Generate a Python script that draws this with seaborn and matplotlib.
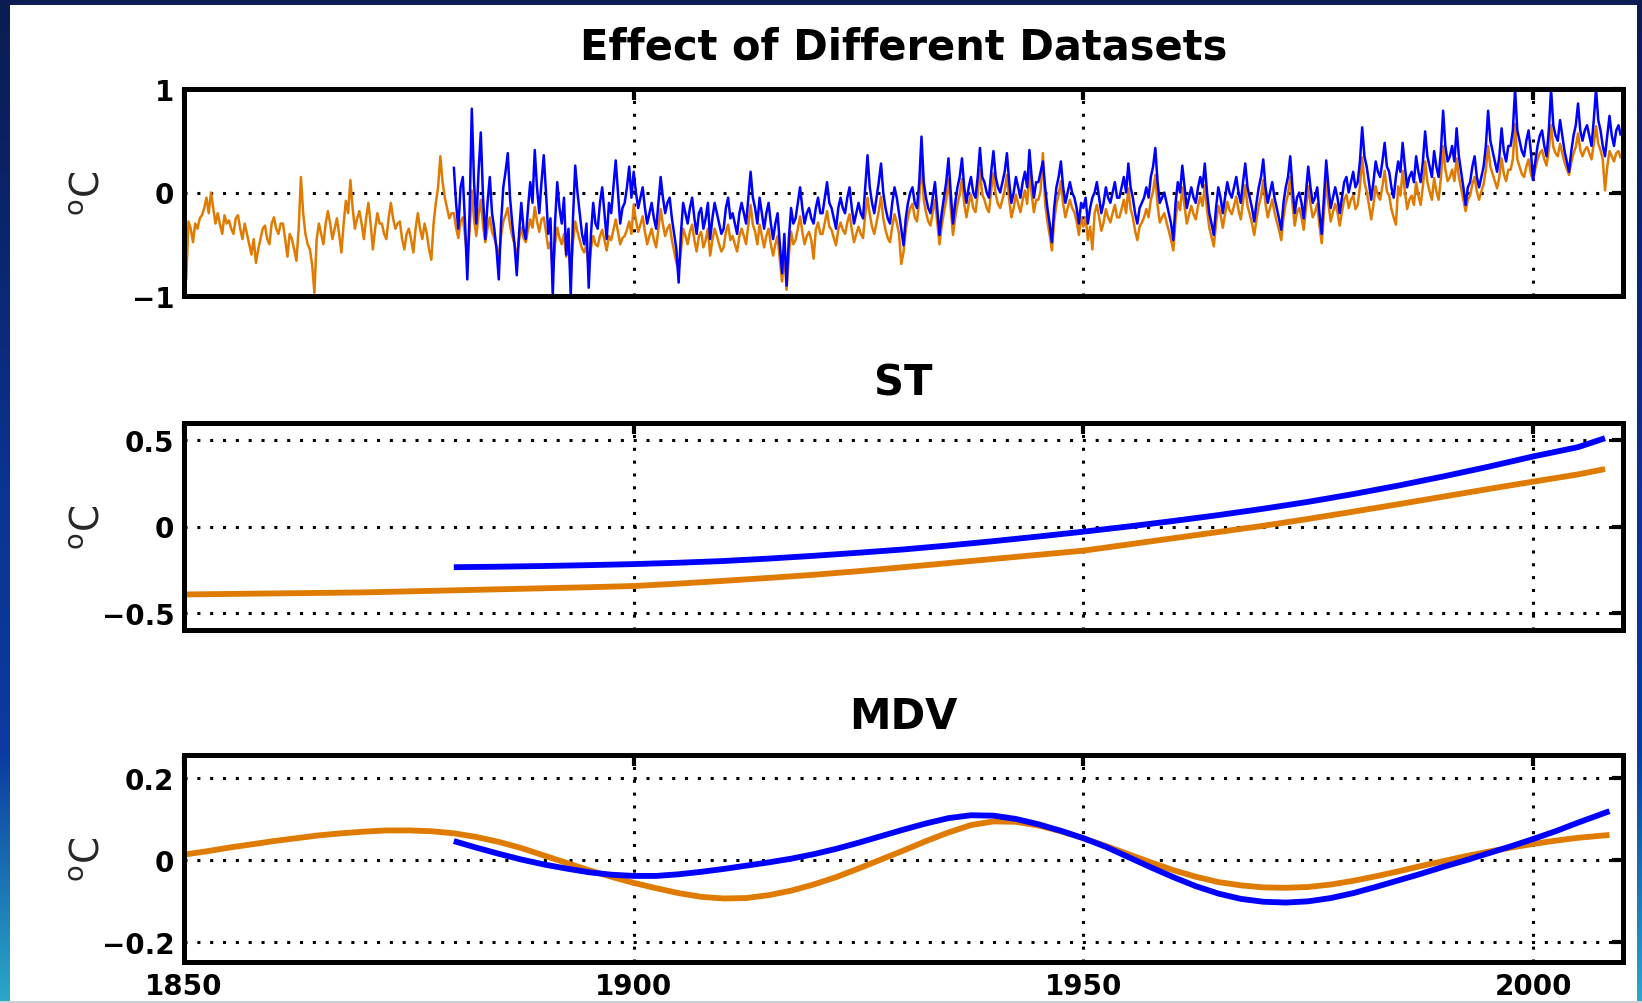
import numpy as np
import pandas as pd
import matplotlib
matplotlib.use("Agg")
import matplotlib.pyplot as plt
import seaborn as sns
from matplotlib.patches import Rectangle
from matplotlib.colors import LinearSegmentedColormap

# ---------------------------------------------------------------- data
# Anomaly series, sampled every quarter year (one decade per row)
ANOM_STEP = 0.25
ANOM_START_ORANGE = 1850.0
ANOM_START_BLUE = 1880.0

anom_orange = [
    -0.40, -0.84, -0.28, -0.35, -0.48, -0.30, -0.35, -0.25, -0.22, -0.15, -0.05, -0.20, 0.00, -0.15, -0.30, -0.20, -0.31, -0.40, -0.22, -0.30, -0.27, -0.35, -0.40, -0.25, -0.22, -0.35, -0.45, -0.30, -0.40, -0.50, -0.60, -0.45, -0.68, -0.55, -0.45, -0.35, -0.32, -0.45, -0.50, -0.30,
    -0.24, -0.35, -0.40, -0.30, -0.30, -0.45, -0.62, -0.40, -0.45, -0.55, -0.66, -0.35, 0.15, -0.20, -0.40, -0.50, -0.55, -0.70, -0.97, -0.45, -0.30, -0.40, -0.50, -0.30, -0.18, -0.30, -0.45, -0.35, -0.25, -0.40, -0.58, -0.30, -0.08, -0.20, 0.12, -0.15, -0.35, -0.25, -0.18, -0.30,
    -0.45, -0.25, -0.10, -0.30, -0.55, -0.35, -0.20, -0.30, -0.30, -0.40, -0.45, -0.25, -0.10, -0.25, -0.35, -0.30, -0.28, -0.45, -0.55, -0.40, -0.35, -0.45, -0.58, -0.35, -0.20, -0.35, -0.45, -0.30, -0.40, -0.55, -0.65, -0.30, -0.10, 0.05, 0.35, 0.10, -0.05, -0.15, -0.25, -0.20,
    -0.20, -0.34, -0.44, -0.28, -0.24, -0.42, -0.64, -0.38, 0.02, -0.26, -0.42, -0.22, -0.07, -0.32, -0.48, -0.34, -0.24, -0.38, -0.44, -0.52, -0.64, -0.42, -0.28, -0.22, -0.15, -0.32, -0.42, -0.50, -0.62, -0.46, -0.34, -0.44, -0.48, -0.36, -0.26, -0.34, -0.14, -0.28, -0.38, -0.26,
    -0.24, -0.38, -0.54, -0.48, -0.78, -0.50, -0.34, -0.44, -0.50, -0.40, -0.62, -0.52, -0.78, -0.48, -0.28, -0.38, -0.46, -0.54, -0.58, -0.50, -0.75, -0.54, -0.42, -0.50, -0.52, -0.42, -0.36, -0.46, -0.56, -0.42, -0.46, -0.36, -0.26, -0.38, -0.50, -0.44, -0.42, -0.36, -0.28, -0.40,
    -0.12, -0.27, -0.38, -0.31, -0.23, -0.38, -0.50, -0.42, -0.35, -0.46, -0.53, -0.35, -0.16, -0.31, -0.42, -0.35, -0.31, -0.46, -0.57, -0.68, -0.75, -0.57, -0.35, -0.42, -0.50, -0.38, -0.31, -0.46, -0.57, -0.42, -0.38, -0.53, -0.46, -0.35, -0.61, -0.46, -0.35, -0.42, -0.50, -0.57,
    -0.53, -0.38, -0.31, -0.46, -0.42, -0.50, -0.57, -0.42, -0.35, -0.42, -0.50, -0.31, -0.12, -0.31, -0.38, -0.50, -0.31, -0.42, -0.53, -0.42, -0.35, -0.50, -0.61, -0.50, -0.42, -0.65, -0.86, -0.57, -0.94, -0.61, -0.38, -0.50, -0.46, -0.35, -0.23, -0.38, -0.50, -0.42, -0.38, -0.46,
    -0.64, -0.36, -0.29, -0.40, -0.40, -0.29, -0.18, -0.33, -0.36, -0.44, -0.51, -0.36, -0.29, -0.36, -0.40, -0.29, -0.21, -0.36, -0.48, -0.40, -0.33, -0.40, -0.44, -0.21, -0.05, -0.21, -0.33, -0.40, -0.29, -0.18, -0.04, -0.25, -0.36, -0.44, -0.48, -0.33, -0.21, -0.29, -0.40, -0.69,
    -0.58, -0.36, -0.24, -0.15, -0.11, -0.24, -0.28, -0.07, 0.31, -0.07, -0.19, -0.28, -0.32, -0.19, -0.07, -0.28, -0.50, -0.32, -0.19, -0.07, 0.13, -0.15, -0.41, -0.24, -0.11, -0.02, 0.13, -0.11, -0.24, -0.11, -0.02, -0.15, -0.19, -0.02, 0.22, -0.02, -0.07, -0.15, -0.19, 0.02,
    0.19, -0.02, -0.11, -0.15, -0.07, 0.02, 0.17, -0.07, -0.24, -0.15, -0.02, -0.11, -0.19, -0.07, 0.02, -0.11, 0.20, -0.02, -0.19, -0.07, -0.07, 0.02, 0.38, -0.11, -0.28, -0.41, -0.56, -0.28, -0.11, -0.02, 0.11, -0.11, -0.24, -0.15, -0.07, -0.15, -0.19, -0.28, -0.41, -0.24,
    -0.33, -0.24, -0.46, -0.33, -0.55, -0.20, -0.12, -0.24, -0.37, -0.29, -0.16, -0.24, -0.29, -0.20, -0.12, -0.24, -0.24, -0.16, -0.07, -0.20, 0.04, -0.16, -0.24, -0.37, -0.46, -0.33, -0.29, -0.24, -0.16, -0.24, -0.07, 0.01, 0.17, -0.12, -0.29, -0.24, -0.20, -0.29, -0.37, -0.46,
    -0.56, -0.26, -0.09, -0.17, 0.05, -0.13, -0.30, -0.21, -0.13, -0.21, -0.26, -0.13, -0.04, -0.13, 0.07, -0.17, -0.34, -0.43, -0.52, -0.30, -0.13, -0.21, -0.34, -0.21, -0.09, -0.17, -0.21, -0.13, -0.04, -0.17, -0.26, -0.09, 0.07, -0.13, -0.21, -0.30, -0.41, -0.26, -0.13, -0.04,
    0.12, -0.11, -0.24, -0.15, -0.07, -0.19, -0.28, -0.36, -0.46, -0.24, -0.11, -0.02, 0.15, -0.11, -0.32, -0.19, -0.15, -0.24, -0.36, -0.15, 0.06, -0.11, -0.24, -0.19, -0.11, -0.32, -0.49, -0.19, 0.11, -0.11, -0.28, -0.19, -0.11, -0.19, -0.32, -0.19, -0.07, -0.02, -0.15, -0.07,
    -0.03, -0.16, -0.12, 0.06, 0.34, 0.10, 0.01, -0.12, -0.26, -0.12, 0.06, -0.03, -0.07, 0.06, 0.21, 0.01, -0.03, -0.16, -0.24, -0.31, 0.06, -0.03, 0.21, 0.01, -0.16, -0.07, -0.03, -0.12, 0.10, -0.03, -0.12, 0.06, 0.30, 0.10, 0.01, -0.07, 0.14, 0.01, -0.07, 0.14,
    0.45, 0.22, 0.11, 0.15, 0.22, 0.11, 0.33, 0.15, 0.04, -0.07, -0.18, -0.07, -0.03, 0.08, 0.15, 0.01, -0.07, 0.01, 0.08, 0.22, 0.45, 0.25, 0.18, 0.11, 0.04, 0.15, 0.33, 0.18, 0.11, 0.22, 0.22, 0.32, 0.66, 0.32, 0.25, 0.18, 0.15, 0.25, 0.32, 0.18,
    0.12, 0.23, 0.32, 0.38, 0.41, 0.32, 0.26, 0.41, 0.65, 0.44, 0.38, 0.35, 0.47, 0.38, 0.29, 0.23, 0.17, 0.29, 0.38, 0.44, 0.57, 0.41, 0.35, 0.41, 0.44, 0.38, 0.32, 0.47, 0.64, 0.47, 0.41, 0.32, 0.02, 0.25, 0.40, 0.35, 0.30, 0.38, 0.40, 0.33,
]

anom_blue = [
    0.25, -0.10, -0.35, 0.05, 0.15, -0.30, -0.84, -0.20, 0.81, 0.10, -0.30, 0.20, 0.58, -0.05, -0.45, -0.10, 0.15, -0.20, -0.35, -0.55, -0.84, -0.30, 0.05, 0.20, 0.38, -0.05, -0.30, -0.50, -0.80, -0.40, -0.10, -0.35, -0.45, -0.15, 0.10, -0.10, 0.41, 0.05, -0.20, 0.10,
    0.36, 0.00, -0.40, -0.25, -1.00, -0.30, 0.10, -0.15, -0.30, -0.05, -0.60, -0.35, -1.00, -0.25, 0.26, 0.00, -0.20, -0.40, -0.50, -0.30, -0.92, -0.40, -0.10, -0.30, -0.35, -0.10, 0.05, -0.20, -0.45, -0.10, -0.20, 0.05, 0.31, 0.00, -0.30, -0.15, -0.10, 0.05, 0.25, -0.05,
    0.20, 0.00, -0.15, -0.05, 0.05, -0.15, -0.30, -0.20, -0.10, -0.25, -0.35, -0.10, 0.15, -0.05, -0.20, -0.10, -0.05, -0.25, -0.40, -0.55, -0.87, -0.40, -0.10, -0.20, -0.30, -0.15, -0.05, -0.25, -0.40, -0.20, -0.15, -0.35, -0.25, -0.10, -0.45, -0.25, -0.10, -0.20, -0.30, -0.40,
    -0.35, -0.15, -0.05, -0.25, -0.20, -0.30, -0.40, -0.20, -0.10, -0.20, -0.30, -0.05, 0.20, -0.05, -0.15, -0.30, -0.05, -0.20, -0.35, -0.20, -0.10, -0.30, -0.45, -0.30, -0.20, -0.50, -0.78, -0.40, -0.90, -0.45, -0.15, -0.30, -0.25, -0.10, 0.05, -0.15, -0.30, -0.20, -0.15, -0.25,
    -0.30, -0.15, -0.05, -0.20, -0.20, -0.05, 0.10, -0.10, -0.15, -0.25, -0.35, -0.15, -0.05, -0.15, -0.20, -0.05, 0.05, -0.15, -0.30, -0.20, -0.10, -0.20, -0.25, 0.05, 0.36, 0.05, -0.10, -0.20, -0.05, 0.10, 0.28, 0.00, -0.15, -0.25, -0.30, -0.10, 0.05, -0.05, -0.20, -0.35,
    -0.51, -0.25, -0.10, 0.00, 0.05, -0.10, -0.15, 0.10, 0.54, 0.10, -0.05, -0.15, -0.20, -0.05, 0.10, -0.15, -0.41, -0.20, -0.05, 0.10, 0.33, 0.00, -0.30, -0.10, 0.05, 0.15, 0.33, 0.05, -0.10, 0.05, 0.15, 0.00, -0.05, 0.15, 0.43, 0.15, 0.10, 0.00, -0.05, 0.20,
    0.40, 0.15, 0.05, 0.00, 0.10, 0.20, 0.38, 0.10, -0.10, 0.00, 0.15, 0.05, -0.05, 0.10, 0.20, 0.05, 0.41, 0.15, -0.05, 0.10, 0.10, 0.20, 0.30, 0.05, -0.15, -0.30, -0.48, -0.15, 0.05, 0.15, 0.30, 0.05, -0.10, 0.00, 0.10, 0.00, -0.05, -0.15, -0.30, -0.10,
    -0.15, -0.05, -0.30, -0.15, -0.05, 0.00, 0.10, -0.05, -0.20, -0.10, 0.05, -0.05, -0.10, 0.00, 0.10, -0.05, -0.05, 0.05, 0.15, 0.00, 0.28, 0.05, -0.05, -0.20, -0.30, -0.15, -0.10, -0.05, 0.05, -0.05, 0.15, 0.25, 0.43, 0.10, -0.10, -0.05, 0.00, -0.10, -0.20, -0.30,
    -0.46, -0.10, 0.10, 0.00, 0.26, 0.05, -0.15, -0.05, 0.05, -0.05, -0.10, 0.05, 0.15, 0.05, 0.28, 0.00, -0.20, -0.30, -0.41, -0.15, 0.05, -0.05, -0.20, -0.05, 0.10, 0.00, -0.05, 0.05, 0.15, 0.00, -0.10, 0.10, 0.28, 0.05, -0.05, -0.15, -0.28, -0.10, 0.05, 0.15,
    0.32, 0.05, -0.10, 0.00, 0.10, -0.05, -0.15, -0.25, -0.36, -0.10, 0.05, 0.15, 0.35, 0.05, -0.20, -0.05, 0.00, -0.10, -0.25, 0.00, 0.25, 0.05, -0.10, -0.05, 0.05, -0.20, -0.40, -0.05, 0.31, 0.05, -0.15, -0.05, 0.05, -0.05, -0.20, -0.05, 0.10, 0.15, 0.00, 0.10,
    0.20, 0.05, 0.10, 0.30, 0.63, 0.35, 0.25, 0.10, -0.07, 0.10, 0.30, 0.20, 0.15, 0.30, 0.48, 0.25, 0.20, 0.05, -0.05, 0.15, 0.30, 0.20, 0.48, 0.25, 0.05, 0.15, 0.20, 0.10, 0.35, 0.20, 0.10, 0.30, 0.59, 0.35, 0.25, 0.15, 0.40, 0.25, 0.15, 0.40,
    0.79, 0.45, 0.30, 0.35, 0.45, 0.30, 0.62, 0.35, 0.20, 0.05, -0.12, 0.05, 0.10, 0.25, 0.35, 0.15, 0.05, 0.15, 0.25, 0.45, 0.79, 0.50, 0.40, 0.30, 0.20, 0.35, 0.62, 0.40, 0.30, 0.45, 0.45, 0.60, 1.00, 0.60, 0.50, 0.40, 0.35, 0.50, 0.60, 0.40,
    0.12, 0.30, 0.45, 0.55, 0.60, 0.45, 0.35, 0.60, 1.00, 0.65, 0.55, 0.50, 0.70, 0.55, 0.40, 0.30, 0.20, 0.40, 0.55, 0.65, 0.86, 0.60, 0.50, 0.60, 0.65, 0.55, 0.45, 0.70, 1.00, 0.70, 0.60, 0.45, 0.35, 0.55, 0.74, 0.55, 0.45, 0.60, 0.65, 0.55,
]

# Secular trend (ST) component
st_years_orange = [1850, 1855, 1860, 1865, 1870, 1875, 1880, 1885, 1890, 1895, 1900, 1905,
                   1910, 1915, 1920, 1925, 1930, 1935, 1940, 1945, 1950, 1955, 1960, 1965,
                   1970, 1975, 1980, 1985, 1990, 1995, 2000, 2005, 2008]
st_orange = [-0.394, -0.391, -0.388, -0.385, -0.382, -0.376, -0.370, -0.364, -0.358, -0.352, -0.345, -0.331,
             -0.315, -0.298, -0.280, -0.259, -0.236, -0.212, -0.188, -0.164, -0.140, -0.104, -0.068, -0.032,
             0.004, 0.044, 0.086, 0.129, 0.173, 0.217, 0.260, 0.302, 0.333]

st_years_blue = [1880, 1885, 1890, 1895, 1900, 1905, 1910, 1915, 1920, 1925, 1930, 1935,
                 1940, 1945, 1950, 1955, 1960, 1965, 1970, 1975, 1980, 1985, 1990, 1995,
                 2000, 2005, 2008]
st_blue = [-0.236, -0.233, -0.229, -0.224, -0.218, -0.210, -0.200, -0.186, -0.170, -0.152, -0.133, -0.110,
           -0.085, -0.058, -0.030, 0.000, 0.032, 0.066, 0.103, 0.143, 0.188, 0.237, 0.290, 0.346,
           0.406, 0.460, 0.512]

# Multidecadal variability (MDV) component
mdv_years_orange = [1850.0, 1852.5, 1855.0, 1857.5, 1860.0, 1862.5, 1865.0, 1867.5, 1870.0, 1872.5,
                    1875.0, 1877.5, 1880.0, 1882.5, 1885.0, 1887.5, 1890.0, 1892.5, 1895.0, 1897.5,
                    1900.0, 1902.5, 1905.0, 1907.5, 1910.0, 1912.5, 1915.0, 1917.5, 1920.0, 1922.5,
                    1925.0, 1927.5, 1930.0, 1932.5, 1935.0, 1937.5, 1940.0, 1942.5, 1945.0, 1947.5,
                    1950.0, 1952.5, 1955.0, 1957.5, 1960.0, 1962.5, 1965.0, 1967.5, 1970.0, 1972.5,
                    1975.0, 1977.5, 1980.0, 1982.5, 1985.0, 1987.5, 1990.0, 1992.5, 1995.0, 1997.5,
                    2000.0, 2002.5, 2005.0, 2008.5]
mdv_orange = [0.012, 0.020, 0.029, 0.037, 0.045, 0.052, 0.059, 0.064, 0.068, 0.071,
              0.071, 0.069, 0.064, 0.055, 0.043, 0.028, 0.010, -0.008, -0.026, -0.042,
              -0.057, -0.070, -0.082, -0.091, -0.095, -0.094, -0.087, -0.076, -0.061, -0.043,
              -0.022, 0.000, 0.022, 0.045, 0.066, 0.084, 0.093, 0.092, 0.083, 0.069,
              0.052, 0.033, 0.013, -0.007, -0.026, -0.042, -0.055, -0.063, -0.068, -0.069,
              -0.067, -0.061, -0.052, -0.041, -0.029, -0.016, -0.004, 0.008, 0.019, 0.029,
              0.038, 0.046, 0.053, 0.060]

mdv_years_blue = [1880.0, 1882.5, 1885.0, 1887.5, 1890.0, 1892.5, 1895.0, 1897.5,
                  1900.0, 1902.5, 1905.0, 1907.5, 1910.0, 1912.5, 1915.0, 1917.5, 1920.0, 1922.5,
                  1925.0, 1927.5, 1930.0, 1932.5, 1935.0, 1937.5, 1940.0, 1942.5, 1945.0, 1947.5,
                  1950.0, 1952.5, 1955.0, 1957.5, 1960.0, 1962.5, 1965.0, 1967.5, 1970.0, 1972.5,
                  1975.0, 1977.5, 1980.0, 1982.5, 1985.0, 1987.5, 1990.0, 1992.5, 1995.0, 1997.5,
                  2000.0, 2002.5, 2005.0, 2008.5]
mdv_blue = [0.045, 0.029, 0.014, 0.000, -0.012, -0.022, -0.031, -0.037,
            -0.040, -0.040, -0.036, -0.030, -0.023, -0.015, -0.007, 0.002, 0.013, 0.026,
            0.041, 0.057, 0.073, 0.088, 0.101, 0.108, 0.107, 0.099, 0.086, 0.070,
            0.052, 0.031, 0.006, -0.019, -0.043, -0.065, -0.083, -0.096, -0.103, -0.105,
            -0.102, -0.094, -0.082, -0.067, -0.051, -0.035, -0.018, -0.002, 0.015, 0.032,
            0.050, 0.069, 0.090, 0.118]

year_ticks = [1850, 1900, 1950, 2000]
year_labels = ["1850", "1900", "1950", "2000"]

panel_titles = ["Effect of Different Datasets", "ST", "MDV"]
panel_yticks = [[-1, 0, 1], [-0.5, 0, 0.5], [-0.2, 0, 0.2]]
panel_ylabels = [["\u22121", "0", "1"], ["\u22120.5", "0", "0.5"], ["\u22120.2", "0", "0.2"]]
panel_ylims = [(-1.0, 1.0), (-0.6, 0.6), (-0.25, 0.255)]
unit_label = r"$^{\mathrm{o}}$C"

ORANGE = "#DF7B00"
BLUE = "#0000FF"

# ---------------------------------------------------------------- style
sns.set_style("white")
plt.rcParams["font.family"] = ["DejaVu Sans"]
plt.rcParams["mathtext.fontset"] = "dejavusans"

W, H = 1642, 1004
fig = plt.figure(figsize=(W / 100, H / 100), dpi=100)
fig.patch.set_facecolor("white")

left = 184 / W
width = (1623 - 184) / W
height = 207 / H
tops = [90, 424, 756]
axes = [fig.add_axes([left, 1 - (t + 207) / H, width, height]) for t in tops]

# ---------------------------------------------------------------- draw series
anom_o = pd.DataFrame({"year": ANOM_START_ORANGE + ANOM_STEP * np.arange(len(anom_orange)),
                       "value": anom_orange})
anom_b = pd.DataFrame({"year": ANOM_START_BLUE + ANOM_STEP * np.arange(len(anom_blue)),
                       "value": anom_blue})

sns.lineplot(data=anom_o, x="year", y="value", ax=axes[0], color=ORANGE,
             linewidth=1.8, estimator=None, sort=False)
sns.lineplot(data=anom_b, x="year", y="value", ax=axes[0], color=BLUE,
             linewidth=1.8, estimator=None, sort=False)

sns.lineplot(x=st_years_orange, y=st_orange, ax=axes[1], color=ORANGE,
             linewidth=4.2, estimator=None, sort=False)
sns.lineplot(x=st_years_blue, y=st_blue, ax=axes[1], color=BLUE,
             linewidth=4.2, estimator=None, sort=False)

sns.lineplot(x=mdv_years_orange, y=mdv_orange, ax=axes[2], color=ORANGE,
             linewidth=4.2, estimator=None, sort=False)
sns.lineplot(x=mdv_years_blue, y=mdv_blue, ax=axes[2], color=BLUE,
             linewidth=4.2, estimator=None, sort=False)

for line in [l for ax in axes for l in ax.get_lines()]:
    line.set_solid_joinstyle("round")
    line.set_solid_capstyle("butt")

# ---------------------------------------------------------------- axes look
for i, ax in enumerate(axes):
    ax.set_xlim(1850, 2010)
    ax.set_ylim(*panel_ylims[i])
    ax.set_xticks(year_ticks)
    ax.set_xticklabels(year_labels if i == 2 else [])
    ax.set_yticks(panel_yticks[i])
    ax.set_yticklabels(panel_ylabels[i])
    ax.grid(True, color="black", linestyle=(0, (1, 3.2)), linewidth=2.2)
    ax.set_axisbelow(True)
    for s in ax.spines.values():
        s.set_visible(True)
        s.set_color("black")
        s.set_linewidth(3.6)
    ax.tick_params(direction="in", length=8, width=3, top=True, right=True,
                   labelsize=20, pad=7, colors="black")
    for lbl in ax.get_xticklabels() + ax.get_yticklabels():
        lbl.set_fontweight("bold")
    ax.set_xlabel("")
    ax.set_ylabel(unit_label, fontsize=28, labelpad=0)
    ax.yaxis.set_label_coords(-0.053, 0.5)

title_y = [48, 383, 717]
for txt, y in zip(panel_titles, title_y):
    fig.text(left + width / 2, 1 - y / H, txt, ha="center", va="center",
             fontsize=30, fontweight="bold", color="black")

# ---------------------------------------------------------------- slide frame
frame_cmap = LinearSegmentedColormap.from_list(
    "frame", ["#0a1c50", "#0a2670", "#0b3494", "#0b3aa0", "#2aa8c8"])
grad = np.linspace(0, 1, 256).reshape(-1, 1)
for x0, wpx in [(0, 9), (1637, 5)]:
    fax = fig.add_axes([x0 / W, 0, wpx / W, 1])
    fax.imshow(grad, aspect="auto", cmap=frame_cmap, origin="upper")
    fax.set_axis_off()
fig.patches.append(Rectangle((0, 1 - 6 / H), 1, 6 / H, transform=fig.transFigure,
                             facecolor="#0b1d52", edgecolor="none", zorder=20))
fig.patches.append(Rectangle((0, 0), 1, 2 / H, transform=fig.transFigure,
                             facecolor="#c9cfd4", edgecolor="none", zorder=20))

fig.savefig("out.png", dpi=100, facecolor="white")
